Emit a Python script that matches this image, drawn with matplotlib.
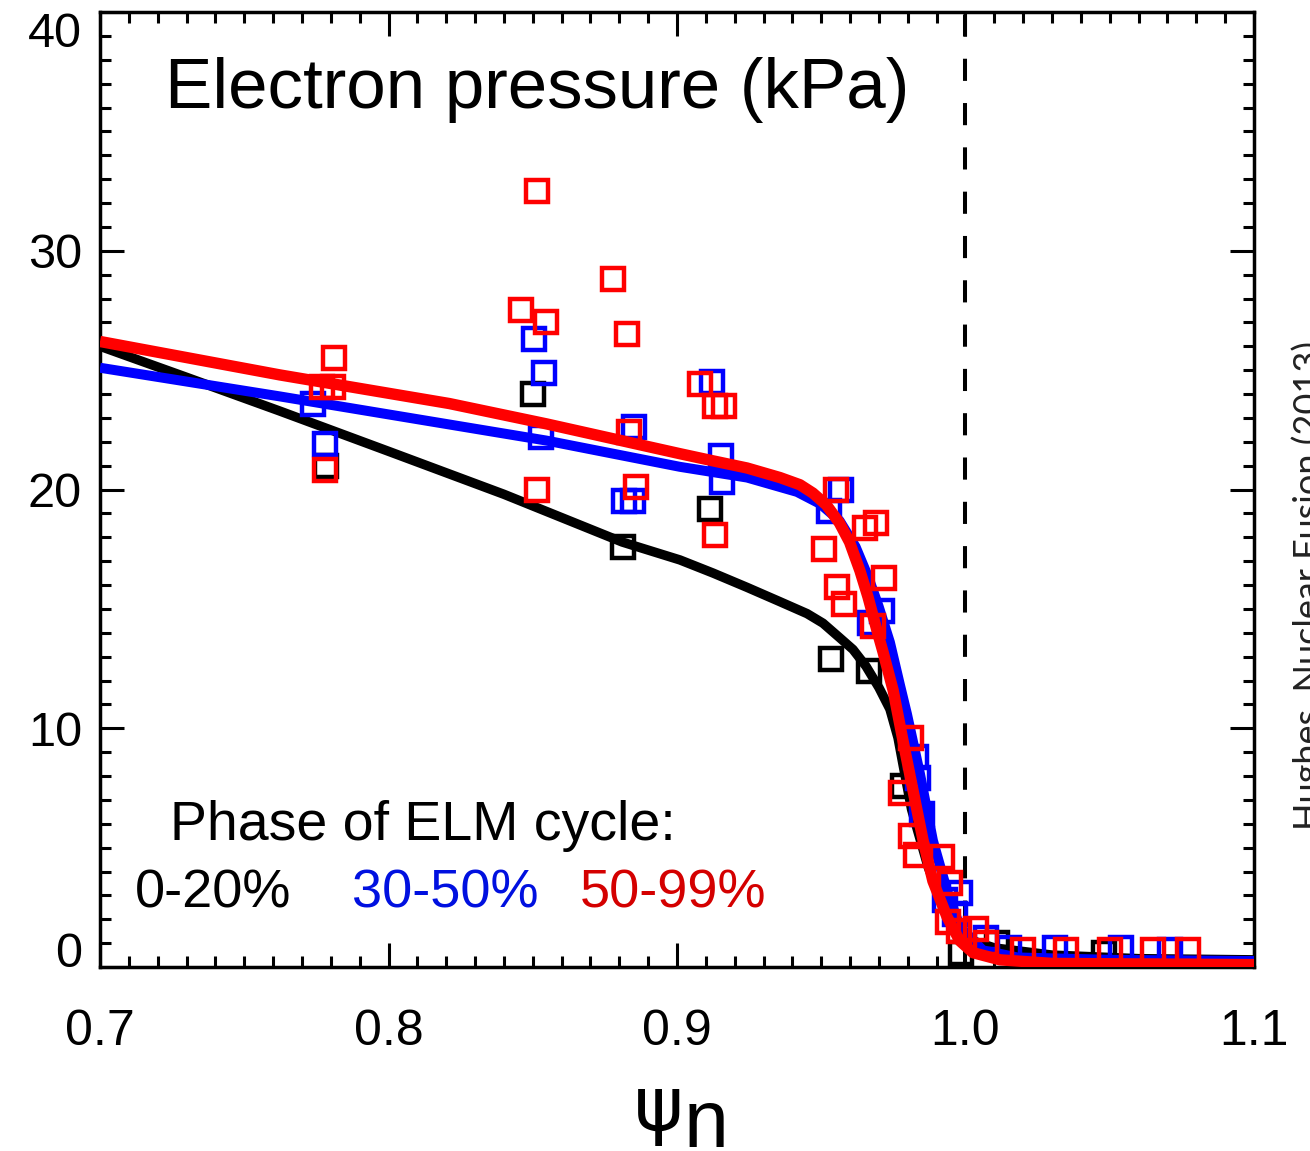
import matplotlib
matplotlib.use("Agg")
import matplotlib.pyplot as plt
from matplotlib.ticker import MultipleLocator

plt.rcParams['font.family'] = ['Liberation Sans', 'DejaVu Sans']

# ---- data ----
black_pts_x = [0.7785, 0.8502, 0.8813, 0.9114, 0.9533, 0.9664, 0.9785, 0.9985, 1.0110, 1.0480]
black_pts_y = [21.0, 24.0, 17.6, 19.2, 12.9, 12.4, 7.6, 0.6, 1.0, 0.6]

blue_pts_x = [0.7740, 0.7780, 0.8505, 0.8540, 0.8530, 0.8850, 0.8817, 0.8848, 0.9120,
              0.9152, 0.9156, 0.9570, 0.9526, 0.9710, 0.9670, 0.9830, 0.9837, 0.9850,
              0.9930, 0.9980, 0.9965, 1.0070, 1.0150, 1.0310, 1.0540, 1.0710]
blue_pts_y = [23.6, 21.9, 26.3, 24.9, 22.2, 22.6, 19.5, 19.5, 24.5,
              21.4, 20.3, 20.0, 19.1, 14.9, 14.4, 8.8, 7.9, 6.4,
              2.8, 3.1, 2.2, 1.2, 0.8, 0.8, 0.8, 0.7]

red_pts_x = [0.7810, 0.7780, 0.7770, 0.7806, 0.8515, 0.8460, 0.8547, 0.8515, 0.8779,
             0.8827, 0.8834, 0.8858, 0.9080, 0.9130, 0.9163, 0.9130, 0.9550, 0.9510,
             0.9690, 0.9650, 0.9554, 0.9578, 0.9716, 0.9678, 0.9810, 0.9775, 0.9810,
             0.9827, 0.9917, 0.9948, 0.9940, 0.9976, 1.0038, 1.0070, 1.0200, 1.0350,
             1.0500, 1.0650, 1.0770]
red_pts_y = [25.5, 20.8, 24.3, 24.3, 32.5, 27.5, 27.0, 20.0, 28.8,
             26.5, 22.4, 20.1, 24.4, 23.5, 23.5, 18.1, 20.0, 17.5,
             18.6, 18.4, 15.9, 15.2, 16.3, 14.3, 9.6, 7.3, 5.5,
             4.7, 4.6, 3.5, 1.9, 1.5, 1.6, 1.0, 0.7, 0.7,
             0.7, 0.7, 0.7]

black_fit_x = [0.700, 0.730, 0.762, 0.800, 0.840, 0.881, 0.901, 0.9125, 0.9243, 0.9357,
               0.9451, 0.9506, 0.9563, 0.961, 0.9655, 0.970, 0.9738, 0.9766, 0.9783,
               0.9813, 0.987, 0.9931, 1.000, 1.010, 1.030, 1.060, 1.100]
black_fit_y = [26.0, 24.7, 23.3, 21.6, 19.8, 17.8, 17.05, 16.5, 15.9, 15.3,
               14.8, 14.4, 13.8, 13.3, 12.6, 11.7, 10.8, 9.6, 8.5,
               6.6, 4.2, 2.3, 1.2, 0.8, 0.5, 0.35, 0.3]

blue_fit_x = [0.700, 0.7623, 0.8547, 0.9010, 0.9243, 0.9416, 0.9496, 0.9563, 0.9619, 0.9664,
              0.9699, 0.9738, 0.9773, 0.9797, 0.9842, 0.9887, 0.9936, 0.998, 1.006, 1.018,
              1.050, 1.100]
blue_fit_y = [25.1, 23.9, 22.05, 20.95, 20.5, 19.9, 19.4, 18.7, 17.6, 16.3,
              15.1, 13.6, 11.8, 10.6, 8.1, 5.3, 3.2, 1.7, 0.7, 0.4,
              0.3, 0.25]

red_fit_x = [0.700, 0.7623, 0.8211, 0.8547, 0.9010, 0.9125, 0.9243, 0.9357, 0.9426, 0.9471,
             0.9518, 0.9563, 0.9598, 0.9634, 0.9662, 0.9693, 0.9714, 0.9749, 0.9783, 0.9818,
             0.9853, 0.9887, 0.9936, 0.998, 1.0026, 1.012, 1.030, 1.100]
red_fit_y = [26.2, 24.8, 23.6, 22.75, 21.5, 21.2, 20.9, 20.5, 20.2, 19.85,
             19.35, 18.6, 17.8, 16.6, 15.5, 14.1, 13.2, 11.6, 9.5, 7.4,
             5.3, 3.6, 2.1, 1.1, 0.6, 0.3, 0.15, 0.1]

x_ticks = [0.7, 0.8, 0.9, 1.0, 1.1]
x_ticklabels = ['0.7', '0.8', '0.9', '1.0', '1.1']
y_ticks = [0, 10, 20, 30, 40]
y_ticklabels = ['0', '10', '20', '30', '40']
separatrix = 1.0

title_text = 'Electron pressure (kPa)'
legend_head = 'Phase of ELM cycle:'
legend_labels = ['0-20%', '30-50%', '50-99%']
legend_colors = ['#000000', '#0010e0', '#d40000']
credit = 'Hughes, Nuclear Fusion (2013)'

# ---- figure ----
W, H = 1310, 1151
fig = plt.figure(figsize=(W / 100, H / 100), dpi=100)
ax = fig.add_axes([100 / W, 1 - 967 / H, (1254 - 100) / W, (967 - 12) / H])

mk = dict(marker='s', linestyle='none', markersize=15.5, markerfacecolor='none',
          markeredgewidth=3.2)
ln = dict(solid_capstyle='butt', solid_joinstyle='round')

ax.plot(black_pts_x, black_pts_y, color='black', **mk, zorder=3)
ax.plot(black_fit_x, black_fit_y, color='black', lw=6.8, **ln, zorder=2)
ax.plot(blue_pts_x, blue_pts_y, color='#0000ff', **mk, zorder=3)
ax.plot(blue_fit_x, blue_fit_y, color='#0000ff', lw=7.2, **ln, zorder=4)
ax.plot(red_pts_x, red_pts_y, color='#ff0000', **mk, zorder=5)
ax.plot(red_fit_x, red_fit_y, color='#ff0000', lw=8.2, **ln, zorder=6)

ax.axvline(separatrix, color='black', lw=2.9, dashes=(5.5, 5.5), zorder=1)

ax.set_xlim(0.7, 1.1)
ax.set_ylim(0, 40)
ax.set_xticks(x_ticks)
ax.set_xticklabels(x_ticklabels)
ax.set_yticks(y_ticks)
ax.set_yticklabels(y_ticklabels)
ax.xaxis.set_minor_locator(MultipleLocator(0.01))
ax.yaxis.set_minor_locator(MultipleLocator(1))
ax.tick_params(which='both', direction='in', top=True, right=True, width=2.2)
ax.tick_params(which='major', length=17)
ax.tick_params(which='minor', length=8)
ax.tick_params(axis='x', which='major', labelsize=36, pad=30)
ax.tick_params(axis='y', which='major', labelsize=35, pad=13)
for s in ax.spines.values():
    s.set_linewidth(2.5)

ylabs = ax.get_yticklabels()
ylabs[0].set_va('baseline')
ylabs[-1].set_va('top')

fig.text(165 / W, 1 - 108 / H, title_text, fontsize=51, va='baseline', ha='left')
fig.text(170 / W, 1 - 840 / H, legend_head, fontsize=40, va='baseline', ha='left')
leg_x = [135, 352, 580]
for lx, lab, col in zip(leg_x, legend_labels, legend_colors):
    fig.text(lx / W, 1 - 907 / H, lab, fontsize=39, color=col, va='baseline', ha='left')

fig.text(634 / W, 1 - 1130 / H, 'ψ', fontsize=54, va='baseline', ha='left',
         family=['DejaVu Sans'])
fig.text(684 / W, 1 - 1147 / H, 'n', fontsize=58, va='baseline', ha='left')

fig.text(1291 / W, 1 - 585 / H, credit, rotation=90, fontsize=26, color='#222222',
         va='center', ha='left', family=['Lato', 'DejaVu Sans'])

fig.savefig('out.png', dpi=100)
